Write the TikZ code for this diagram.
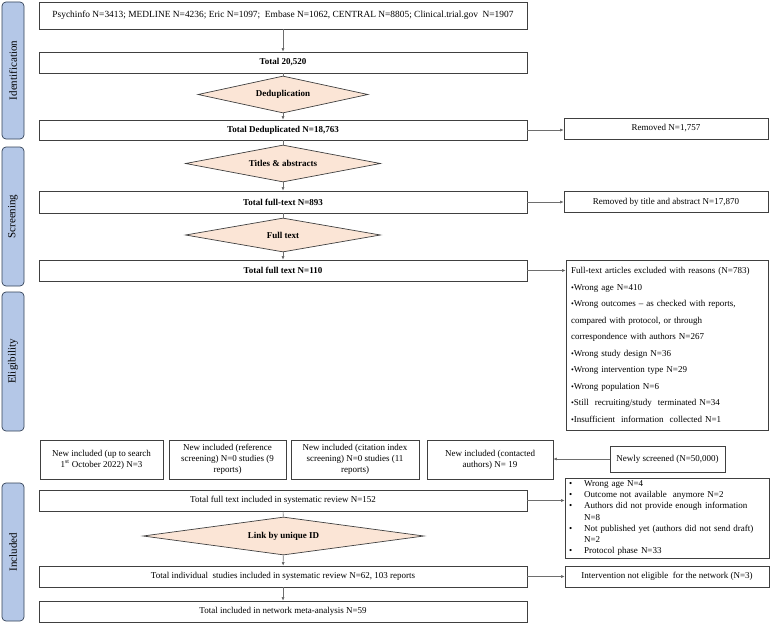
\documentclass[tikz,border=0pt]{standalone}
\usepackage{fontspec}
\setmainfont{Liberation Serif}
\usetikzlibrary{shapes.geometric,arrows.meta}

\definecolor{phasefill}{RGB}{180,199,231}
\definecolor{phaseline}{RGB}{52,66,88}
\definecolor{decfill}{RGB}{251,229,214}
\definecolor{boxline}{RGB}{64,64,64}
\definecolor{conline}{RGB}{110,110,110}

\tikzset{
  phase/.style={draw=phaseline, fill=phasefill, rounded corners=4pt, rotate=90,
    minimum height=22, inner sep=0pt, line width=0.7pt, font=\fontsize{11}{13}\selectfont},
  mainbox/.style={draw=boxline, minimum width=488, minimum height=21, inner sep=0pt,
    line width=0.7pt, font=\fontsize{9}{10.8}\selectfont},
  sidebox/.style={mainbox, minimum width=204},
  newbox/.style={mainbox, minimum height=39, align=center, font=\fontsize{9}{10.8}\selectfont},
  decision/.style={diamond, draw=boxline, fill=decfill, aspect=5, inner sep=0pt,
    line width=0.7pt, font=\fontsize{9}{10.8}\selectfont\bfseries},
  arr/.style={draw=conline, line width=0.6pt, -{Latex[length=3.5pt,width=3pt,fill=black]}},
  plain/.style={draw=conline, line width=0.6pt}
}

\begin{document}
\begin{tikzpicture}[x=1pt,y=-1pt]
  \useasboundingbox (0,0) rectangle (770,623);

  % Phases
  \node[phase, minimum width=137] (iden) at (13,70.5) {Identification};
  \node[phase, minimum width=139] (scr) at (13,216.5) {Screening};
  \node[phase, minimum width=139] (elig) at (13,361.5) {Eligibility};
  \node[phase, minimum width=138] (incl) at (13,552) {Included};

  % Main column
  \node[mainbox, minimum height=27, font=\fontsize{9.4}{11}\selectfont] (src) at (283,15.5) {Psychinfo N=3413; MEDLINE N=4236; Eric N=1097;\ \ Embase N=1062, CENTRAL N=8805; Clinical.trial.gov\ \ N=1907};
  \node[mainbox, font=\fontsize{9}{10.8}\selectfont\bfseries] (tot) at (283,62.5) {Total 20,520};
  \node[decision, minimum width=170, minimum height=37] (dedup) at (283,94.5) {Deduplication};
  \node[mainbox, minimum height=20, font=\fontsize{9}{10.8}\selectfont\bfseries] (totdd) at (283,130) {Total Deduplicated N=18,763};
  \node[decision, minimum width=195, minimum height=37] (titles) at (283,163.5) {Titles \& abstracts};
  \node[mainbox, minimum height=22, font=\fontsize{9}{10.8}\selectfont\bfseries] (ft893) at (283,202) {Total full-text N=893};
  \node[decision, minimum width=195, minimum height=34] (fulltext) at (283,235) {Full text};
  \node[mainbox, font=\fontsize{9}{10.8}\selectfont\bfseries] (ft110) at (283,270.5) {Total full text N=110};

  % New included
  \node[newbox, minimum width=123] (new1) at (101.5,459.5) {New included (up to search\\1\textsuperscript{st} October 2022) N=3};
  \node[newbox, minimum width=117] (new2) at (227.5,459.5) {New included (reference\\screening) N=0 studies (9\\reports)};
  \node[newbox, minimum width=128] (new3) at (355,459.5) {New included (citation index\\screening) N=0 studies (11\\reports)};
  \node[newbox, minimum width=126] (new4) at (490,459.5) {New included (contacted\\authors) N= 19};
  \node[sidebox, minimum width=115, minimum height=26] (newly) at (667.5,459) {Newly screened (N=50,000)};

  \node[mainbox] (tot152) at (283,500.5) {Total full text included in systematic review N=152};
  \node[decision, minimum width=281, minimum height=38] (link) at (283.5,536) {Link by unique ID};
  \node[mainbox] (tot62) at (283,576.5) {Total individual\ \ studies included in systematic review N=62, 103 reports};
  \node[mainbox] (tot59) at (283,611.5) {Total included in network meta-analysis N=59};

  % Right column
  \node[sidebox] (rem1) at (666,128.5) {Removed N=1,757};
  \node[sidebox] (rem2) at (666,202) {Removed by title and abstract N=17,870};
  \node[sidebox, minimum width=202, minimum height=170, text width=192, align=left,
    font=\fontsize{9}{16.5}\selectfont] (excl1) at (667,345)
    {Full-text articles excluded with reasons (N=783)\\
     {\footnotesize\textbullet}Wrong age N=410\\
     {\footnotesize\textbullet}Wrong outcomes -- as checked with reports,\\
     compared with protocol, or through\\
     correspondence with authors N=267\\
     {\footnotesize\textbullet}Wrong study design N=36\\
     {\footnotesize\textbullet}Wrong intervention type N=29\\
     {\footnotesize\textbullet}Wrong population N=6\\
     {\footnotesize\textbullet}Still\ \ recruiting/study\ \ terminated N=34\\
     {\footnotesize\textbullet}Insufficient\ \ information\ \ collected N=1};
  \node[sidebox, minimum height=80, text width=196, align=left,
    font=\fontsize{9}{11.2}\selectfont] (excl2) at (667,518)
    {\makebox[15pt][l]{\textbullet}Wrong age N=4\\
     \makebox[15pt][l]{\textbullet}Outcome not available\ \ anymore N=2\\
     \makebox[15pt][l]{\textbullet}Authors did not provide enough information\\
     \hspace*{15pt}N=8\\
     \makebox[15pt][l]{\textbullet}Not published yet (authors did not send draft)\\
     \hspace*{15pt}N=2\\
     \makebox[15pt][l]{\textbullet}Protocol phase N=33};
  \node[sidebox] (notel) at (667,576.5) {Intervention not eligible\ \ for the network (N=3)};

  % Arrows
  \draw[arr] (src) -- (tot);
  \draw[plain] (tot) -- (dedup);
  \draw[arr] (dedup) -- (totdd);
  \draw[plain] (totdd) -- (titles);
  \draw[arr] (titles) -- (ft893);
  \draw[plain] (ft893) -- (fulltext);
  \draw[arr] (fulltext) -- (ft110);
  \draw[arr] (totdd.east) -- (totdd.east -| rem1.west);
  \draw[arr] (ft893.east) -- (rem2.west);
  \draw[arr] (ft110.east) -- (ft110.east -| excl1.west);
  \draw[arr] (newly) -- (newly -| new4.east);
  \draw[arr] (tot152.east) -- (tot152.east -| excl2.west);
  \draw[plain] (tot152) -- (link);
  \draw[arr] (link) -- (tot62);
  \draw[arr] (tot62) -- (tot59);
  \draw[arr] (tot62.east) -- (notel.west);

\end{tikzpicture}
\end{document}
